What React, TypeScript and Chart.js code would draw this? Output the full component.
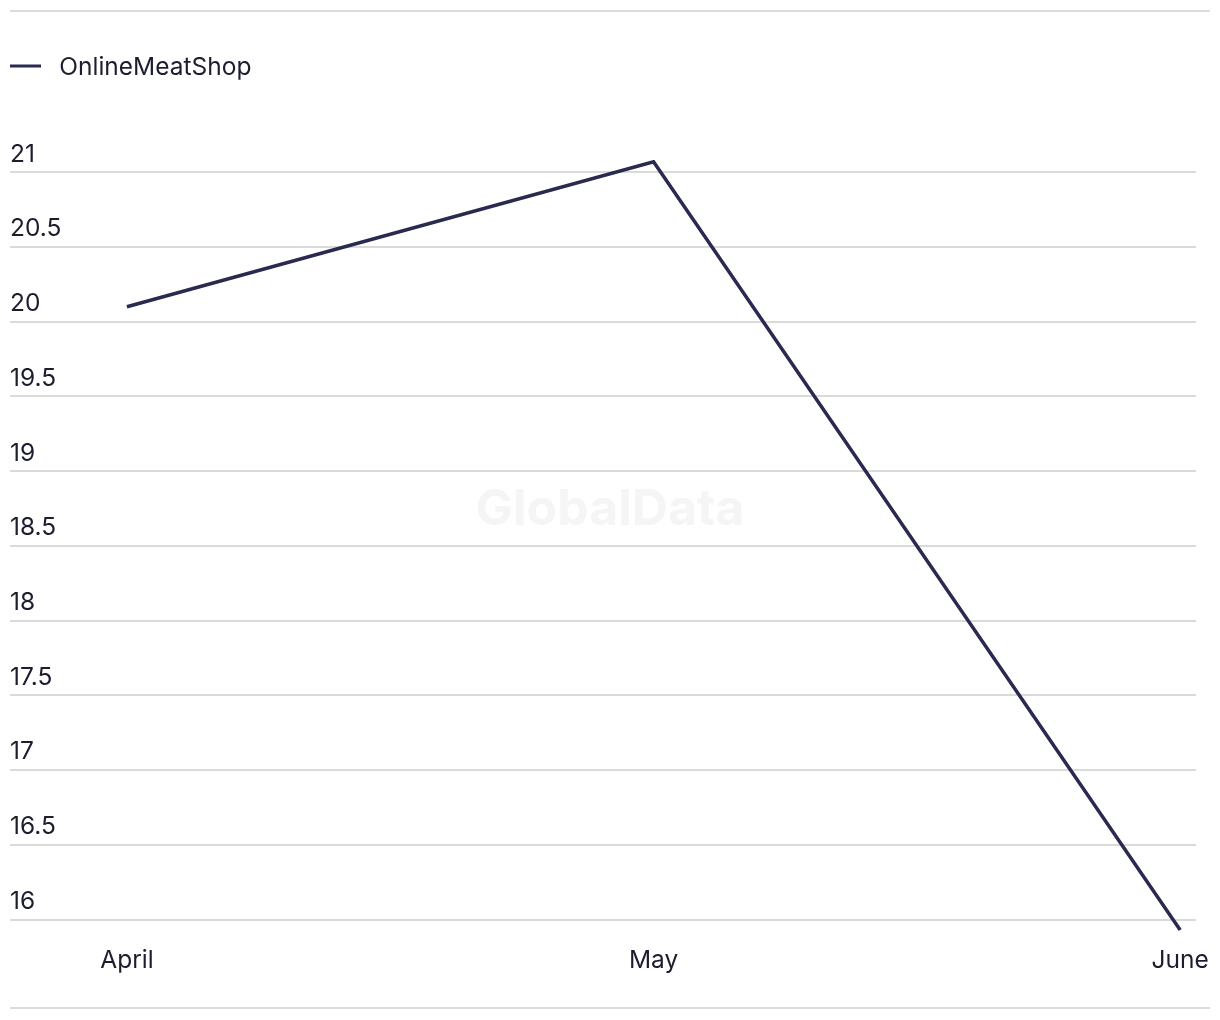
import React, { useEffect, useRef } from 'react';
import { Chart, registerables } from 'chart.js';

Chart.register(...registerables);

const seriesName = 'OnlineMeatShop';
const categories = ['April', 'May', 'June'];
const values = [20.1, 21.07, 15.93];
const yTicks = [16, 16.5, 17, 17.5, 18, 18.5, 19, 19.5, 20, 20.5, 21];
const watermark = 'GlobalData';

const FONT = 'Inter, "Liberation Sans", sans-serif';
const FONT_SIZE = 24.5;
const TEXT = '#1d1d30';
const LINE = '#2a2950';
const GRID = '#dadada';

function makeLegendSymbol(): HTMLCanvasElement {
  const c = document.createElement('canvas');
  c.width = 37;
  c.height = 8;
  const g = c.getContext('2d');
  if (g) {
    g.fillStyle = LINE;
    g.fillRect(0, 0.5, 31, 3);
  }
  return c;
}

export default function App() {
  const ref = useRef<HTMLCanvasElement>(null);

  useEffect(() => {
    if (!ref.current) return;

    const legendGap = {
      id: 'legendGap',
      beforeInit(chart: any) {
        const legend = chart.legend;
        if (!legend) return;
        const orig = legend.fit;
        legend.fit = function () {
          orig.call(this);
          this.height += 71.5;
        };
      },
    };

    const watermarkPlugin = {
      id: 'watermark',
      beforeDatasetsDraw(chart: any) {
        const { ctx } = chart;
        ctx.save();
        ctx.font = `bold 50px ${FONT}`;
        ctx.fillStyle = '#f5f5f5';
        ctx.textAlign = 'center';
        ctx.textBaseline = 'middle';
        ctx.fillText(watermark, chart.width / 2, chart.height / 2);
        ctx.restore();
      },
    };

    const symbol = makeLegendSymbol();

    const chart = new Chart(ref.current, {
      type: 'line',
      data: {
        datasets: [
          {
            label: seriesName,
            data: values.map((v, i) => ({ x: i, y: v })),
            borderColor: LINE,
            backgroundColor: LINE,
            borderWidth: 3.5,
            pointRadius: 0,
            pointHoverRadius: 0,
            pointStyle: symbol,
            tension: 0,
            fill: false,
          },
        ],
      },
      options: {
        responsive: false,
        animation: false,
        layout: { padding: { left: 10, right: 24, top: 43.75, bottom: 15 } },
        plugins: {
          legend: {
            display: true,
            position: 'top',
            align: 'start',
            labels: {
              usePointStyle: true,
              pointStyle: symbol,
              pointStyleWidth: 37,
              padding: 0,
              color: TEXT,
              font: { family: FONT, size: FONT_SIZE },
            },
          },
          tooltip: { enabled: false },
        },
        scales: {
          x: {
            type: 'linear',
            min: -0.222,
            max: 2.03,
            afterBuildTicks: (s: any) => {
              s.ticks = categories.map((_, i) => ({ value: i }));
            },
            ticks: {
              callback: (v: any) => categories[v] ?? '',
              padding: 3,
              color: TEXT,
              maxRotation: 0,
              autoSkip: false,
              font: { family: FONT, size: FONT_SIZE, lineHeight: '56px' },
            },
            grid: { display: false, drawTicks: false },
            border: { display: false },
          },
          y: {
            type: 'linear',
            bounds: 'data',
            afterBuildTicks: (s: any) => {
              s.ticks = yTicks.map((v) => ({ value: v }));
            },
            ticks: {
              mirror: true,
              padding: 0,
              labelOffset: -18,
              callback: (v: any) => String(v),
              color: TEXT,
              font: { family: FONT, size: FONT_SIZE },
            },
            grid: { color: GRID, lineWidth: 2, drawTicks: false },
            border: { display: false },
          },
        },
      },
      plugins: [legendGap, watermarkPlugin],
    } as any);

    return () => chart.destroy();
  }, []);

  return (
    <div style={{ position: 'absolute', left: 0, top: 0, width: 1220, height: 1020, background: '#fff' }}>
      <div style={{ position: 'absolute', left: 10, top: 10, width: 1200, height: 2, background: '#dcdcdc' }} />
      <div style={{ position: 'absolute', left: 0, top: 12, width: 1220, height: 995 }}>
        <canvas ref={ref} width={1220} height={995} style={{ display: 'block' }} />
      </div>
      <div style={{ position: 'absolute', left: 10, top: 1007, width: 1200, height: 2, background: '#dcdcdc' }} />
    </div>
  );
}
